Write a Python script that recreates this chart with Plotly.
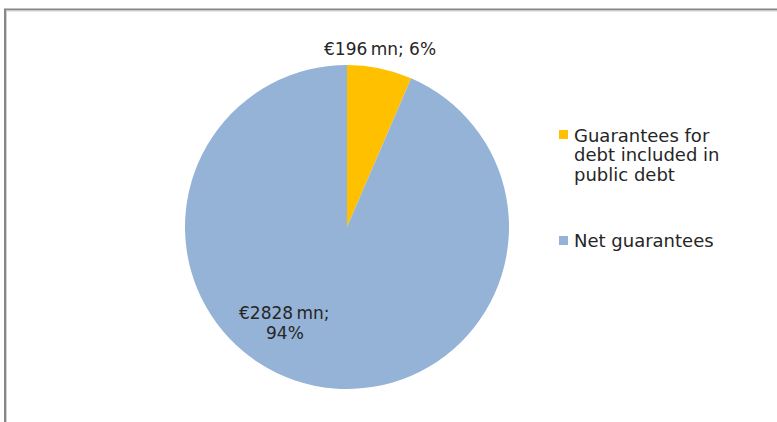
"""Pie chart of state guarantees split."""

import plotly.graph_objects as go

W, H = 777, 422

labels = ["Guarantees for debt included in public debt", "Net guarantees"]
legend_lines = [["Guarantees for", "debt included in", "public debt"], ["Net guarantees"]]
values = [196, 2828]  # EUR mn
colors = ["#FFC000", "#95B3D7"]

FONT = "Verdana, DejaVu Sans, sans-serif"
TEXT_COLOR = "#262626"


def px_x(x):
    return x / W


def px_y(y):
    return (H - y) / H


def add_text_lines(fig, lines, x, y_first, step, size, xanchor):
    # one annotation per line so the line spacing can follow the original
    for i, line in enumerate(lines):
        fig.add_annotation(
            x=px_x(x), y=px_y(y_first + i * step), xref="paper", yref="paper",
            text=line, showarrow=False, xanchor=xanchor, yanchor="middle",
            font=dict(family=FONT, size=size, color=TEXT_COLOR),
        )


def add_frame_corner(fig, x, y, color, width):
    # open path: up the left edge, then along the top edge off the page
    path = (
        f"M {px_x(x):.5f},{px_y(H + 10):.5f} "
        f"L {px_x(x):.5f},{px_y(y):.5f} "
        f"L {px_x(W + 10):.5f},{px_y(y):.5f}"
    )
    fig.add_shape(
        type="path", xref="paper", yref="paper", path=path,
        fillcolor="rgba(0,0,0,0)", line=dict(color=color, width=width),
        layer="above",
    )


total = sum(values)
pcts = [round(v / total * 100) for v in values]

fig = go.Figure()

fig.add_trace(
    go.Pie(
        labels=labels,
        values=values,
        sort=False,
        direction="clockwise",
        rotation=0,
        marker=dict(colors=colors, line=dict(width=0)),
        textinfo="none",
        hoverinfo="skip",
        showlegend=False,
        domain=dict(x=[px_x(185), px_x(509)], y=[px_y(389), px_y(65)]),
    )
)

# data labels
add_text_lines(fig, [f"€{values[0]}\u2009mn; {pcts[0]}%"], 380, 49, 19, 17, "center")
add_text_lines(fig, [f"€{values[1]}\u2009mn;", f"{pcts[1]}%"], 284.5, 313, 19.5, 17, "center")

# custom legend
legend_rows = [(130, 135), (236, 241)]  # square top, first text line centre (px)
for (sq_top, txt_mid), lines, col in zip(legend_rows, legend_lines, colors):
    fig.add_shape(
        type="rect", xref="paper", yref="paper",
        x0=px_x(559), x1=px_x(568), y0=px_y(sq_top + 9), y1=px_y(sq_top),
        fillcolor=col, line=dict(width=0),
    )
    add_text_lines(fig, lines, 572, txt_mid, 19.7, 18, "left")

# chart frame: only top and left edges are inside the crop
add_frame_corner(fig, 5, 9.5, "#868686", 2)
add_frame_corner(fig, 6.5, 11, "#d0d0d0", 1)

fig.update_layout(
    width=W,
    height=H,
    margin=dict(l=0, r=0, t=0, b=0),
    paper_bgcolor="white",
    plot_bgcolor="white",
    font=dict(family=FONT, color=TEXT_COLOR),
    hovermode=False,
)

fig.write_html(
    "out.html",
    post_script=(
        "document.body.style.margin='0';"
        "document.body.style.overflow='hidden';"
        "document.documentElement.style.overflow='hidden';"
    ),
    config={"displayModeBar": False},
)
